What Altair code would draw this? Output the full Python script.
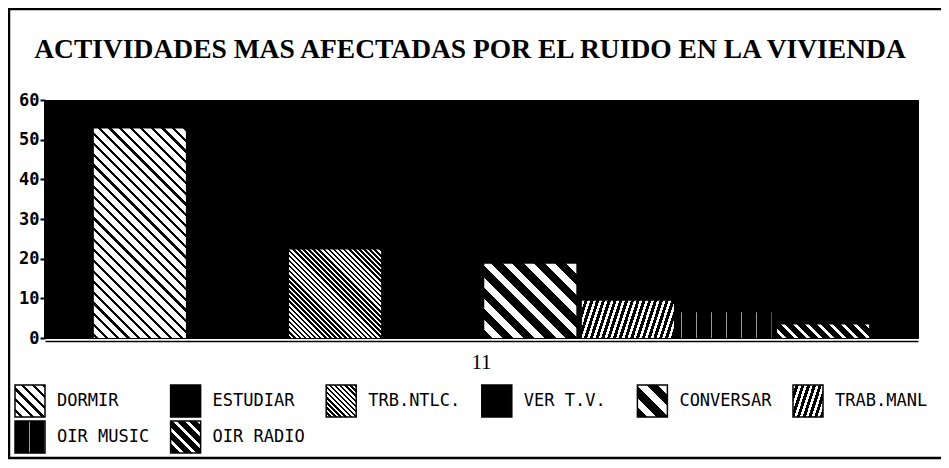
import math
import altair as alt
import pandas as pd

# ---------------- data ----------------
TITULO = "ACTIVIDADES MAS AFECTADAS POR EL RUIDO EN LA VIVIENDA"
actividades = ["DORMIR", "ESTUDIAR", "TRB.NTLC.", "VER T.V.",
               "CONVERSAR", "TRAB.MANL", "OIR MUSIC", "OIR RADIO"]
valores = [52.8, 37.0, 22.3, 40.0, 18.7, 9.4, 6.5, 3.4]
grupo = ["11"] * len(actividades)
ticks_y = [0, 10, 20, 30, 40, 50, 60]

# ---------------- style / layout ----------------
PW, PH = 873, 238
PAD = {"left": 37, "top": 92, "right": 23, "bottom": 122}
Y_MAX = 60
X_OUTER = 0.059
OFF_INNER = 0.057

# hatch styles (stripe angle in screen degrees, period px, stripe fraction)
PATRONES = {
    "DORMIR":    dict(bg="white", fg="black", angle=45, period=7.5, frac=0.3),
    "ESTUDIAR":  None,
    "TRB.NTLC.": dict(bg="white", fg="black", angle=45, period=3.6, frac=0.5),
    "VER T.V.":  None,
    "CONVERSAR": dict(bg="black", fg="white", angle=45, period=15, frac=0.45),
    "TRAB.MANL": dict(bg="black", fg="white", angle=-72, period=5.5, frac=0.45),
    "OIR MUSIC": dict(bg="black", fg="#9a9a9a", angle=90, period=15, frac=0.04),
    "OIR RADIO": dict(bg="black", fg="white", angle=45, period=8.5, frac=0.35),
}


def rayado(w, h, p):
    """Striped linear gradient for a w x h box (objectBoundingBox units)."""
    if p is None:
        return "black"
    a = math.radians(p["angle"])
    nx, ny = -math.sin(a), math.cos(a)
    L = abs(nx) * w + abs(ny) * h
    M = nx * nx * w * w + ny * ny * h * h
    k = L / M
    u0 = 0.0 if nx >= 0 else 1.0
    v0 = 0.0 if ny >= 0 else 1.0
    x2 = u0 + k * nx * w
    y2 = v0 + k * ny * h
    P = p["period"] / L
    stops = []
    i = 0
    while i * P < 1:
        s0 = i * P
        s1 = min(s0 + p["frac"] * P, 1.0)
        s2 = min(s0 + P, 1.0)
        stops += [
            {"offset": round(s0, 5), "color": p["fg"]},
            {"offset": round(s1, 5), "color": p["fg"]},
            {"offset": round(s1, 5), "color": p["bg"]},
            {"offset": round(s2, 5), "color": p["bg"]},
        ]
        i += 1
    return {"gradient": "linear", "x1": u0, "y1": v0, "x2": x2, "y2": y2,
            "stops": stops}


n = len(actividades)
step = PW / (1 + 2 * X_OUTER)
bw = step / n * (1 - OFF_INNER)

df = pd.DataFrame({"grupo": grupo, "act": actividades, "valor": valores})

x_enc = alt.X("grupo:N",
              scale=alt.Scale(paddingInner=0, paddingOuter=X_OUTER),
              axis=alt.Axis(title=None, labelAngle=0, ticks=False,
                            domain=True, domainColor="black", domainWidth=1.5,
                            offset=3, labelPadding=10,
                            labelFont="Liberation Serif", labelFontSize=21,
                            labelColor="black"))
xo_enc = alt.XOffset("act:N",
                     scale=alt.Scale(domain=actividades,
                                     paddingInner=OFF_INNER,
                                     paddingOuter=OFF_INNER / 2))
y_enc = alt.Y("valor:Q",
              scale=alt.Scale(domain=[0, Y_MAX], nice=False),
              axis=alt.Axis(title=None, values=ticks_y, grid=False,
                            domain=True, domainColor="black", domainWidth=3,
                            tickColor="black", tickSize=5, tickWidth=2,
                            labelFont="DejaVu Sans Mono", labelFontSize=17,
                            labelFontWeight="bold", labelColor="black",
                            labelPadding=1))

base = alt.Chart(df)
uno = alt.Chart(pd.DataFrame({"k": [0]}))

capas = []

# outer frame
marco = uno.mark_rect(
    fill="transparent", stroke="black", strokeWidth=2.5, clip=False
).encode(x=alt.value(-36), x2=alt.value(PW + 40),
         y=alt.value(-91), y2=alt.value(358))
capas.append(marco)

# title as text
titulo = uno.mark_text(
    align="center", baseline="alphabetic", font="Liberation Serif",
    fontSize=27.5, fontWeight="bold", color="black", clip=False
).encode(text=alt.value(TITULO), x=alt.value(425), y=alt.value(-42))
capas.append(titulo)

# bars
for act, val in zip(actividades, valores):
    h = val / Y_MAX * PH
    capa = base.transform_filter(alt.datum.act == act).mark_bar(
        fill=rayado(bw, h, PATRONES[act])
    ).encode(x=x_enc, xOffset=xo_enc, y=y_enc)
    capas.append(capa)

# custom legend (6 columns)
LX0, LY0 = -30, 285
LDX, LDY = 155.6, 36
SW, SH = 30, 32
for i, act in enumerate(actividades):
    c, r = i % 6, i // 6
    lx, ly = LX0 + c * LDX, LY0 + r * LDY
    sw = base.transform_filter(alt.datum.act == act).mark_rect(
        fill=rayado(SW, SH, PATRONES[act]), stroke="black", strokeWidth=1.5,
        clip=False
    ).encode(x=alt.value(lx), x2=alt.value(lx + SW),
             y=alt.value(ly), y2=alt.value(ly + SH))
    tx = base.transform_filter(alt.datum.act == act).mark_text(
        align="left", baseline="middle", font="DejaVu Sans Mono",
        fontSize=17, color="black", clip=False
    ).encode(text="act:N", x=alt.value(lx + 42), y=alt.value(ly + SH / 2))
    capas.append(sw)
    capas.append(tx)

chart = alt.layer(*capas).properties(
    width=PW, height=PH,
    padding=PAD,
    autosize=alt.AutoSizeParams(type="none"),
    background="white",
).configure_view(fill="black", stroke="black")

chart.save("out.html", embed_options={"renderer": "svg", "actions": False})
